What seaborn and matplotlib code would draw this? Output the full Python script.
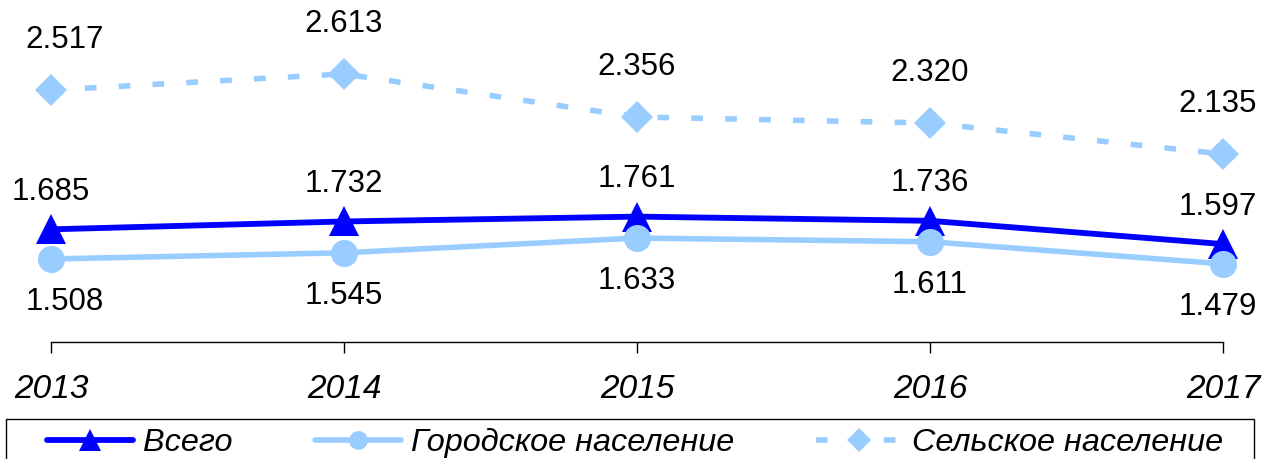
import matplotlib
matplotlib.use("Agg")
import matplotlib.pyplot as plt
from matplotlib.patches import Rectangle
import seaborn as sns
import pandas as pd

years = [2013, 2014, 2015, 2016, 2017]
total = [1.685, 1.732, 1.761, 1.736, 1.597]
urban = [1.508, 1.545, 1.633, 1.611, 1.479]
rural = [2.517, 2.613, 2.356, 2.320, 2.135]
series_names = ["Всего", "Городское население", "Сельское население"]

sns.set_style("white")
plt.rcParams["font.family"] = ["Liberation Sans", "DejaVu Sans"]
plt.rcParams["text.color"] = "black"
plt.rcParams["xtick.color"] = "black"
plt.rcParams["xtick.labelcolor"] = "black"

df = pd.DataFrame({"year": years, "total": total, "urban": urban, "rural": rural})

W, H = 1263, 459
fig = plt.figure(figsize=(W / 100, H / 100), dpi=100)
ax = fig.add_axes([51 / W, 1 - 342 / H, (1223 - 51) / W, 342 / H])

blue = "#0000FF"
light = "#99CCFF"

sns.lineplot(data=df, x="year", y="total", ax=ax, color=blue, lw=4.2,
             marker="^", markersize=21, markeredgecolor=blue, markeredgewidth=0,
             label=series_names[0], legend=False, clip_on=False, zorder=3)
sns.lineplot(data=df, x="year", y="urban", ax=ax, color=light, lw=4.0,
             marker="o", markersize=19.5, markeredgecolor=light, markeredgewidth=0,
             label=series_names[1], legend=False, clip_on=False, zorder=4)
sns.lineplot(data=df, x="year", y="rural", ax=ax, color=light, lw=4.0,
             linestyle=(0, (2.1, 4.0)), marker="D", markersize=16,
             markeredgecolor=light, markeredgewidth=0,
             label=series_names[2], legend=False, clip_on=False, zorder=3)

# data labels
fs = 22.5
for i, yr in enumerate(years):
    dx = -4 if i == 4 else 0
    first = 10 if i == 0 else 0
    ax.annotate(f"{total[i]:.3f}", (yr, total[i]), xytext=(dx, 27),
                textcoords="offset points", ha="center", va="center", fontsize=fs)
    ax.annotate(f"{urban[i]:.3f}", (yr, urban[i]), xytext=(dx + first, -31),
                textcoords="offset points", ha="center", va="center", fontsize=fs)
    ax.annotate(f"{rural[i]:.3f}", (yr, rural[i]), xytext=(dx + first, 36),
                textcoords="offset points", ha="center", va="center", fontsize=fs)

ax.set_xlim(2013, 2017)
ax.set_ylim(1.012, 3.055)
ax.set_xticks(years)
ax.set_xticklabels([str(y) for y in years], fontsize=24, style="italic")
ax.set_yticks([])
ax.set_xlabel("")
ax.set_ylabel("")
for s in ["top", "left", "right"]:
    ax.spines[s].set_visible(False)
ax.spines["bottom"].set_color("black")
ax.spines["bottom"].set_linewidth(1.0)
ax.tick_params(axis="x", direction="out", length=8, width=1, color="black", pad=15,
               bottom=True)
ax.set_facecolor("none")

# legend box runs past the bottom edge
fig.add_artist(Rectangle((6 / W, -0.1), (1254 - 6) / W, (1 - 419 / H) + 0.1,
                         transform=fig.transFigure, fill=False,
                         edgecolor="black", lw=1.0))

handles, labels = ax.get_legend_handles_labels()
leg = fig.legend(handles, labels, loc="center left",
                 bbox_to_anchor=(47 / W, 1 - 443 / H), bbox_transform=fig.transFigure,
                 ncol=3, frameon=False,
                 prop={"size": 23.3, "style": "italic"}, handlelength=2.65,
                 handletextpad=0.31, columnspacing=2.55, borderpad=0,
                 borderaxespad=0, numpoints=1)
for h, ms in zip(leg.legend_handles, [16, 13.5, 12]):
    h.set_markersize(ms)

fig.savefig("out.png", dpi=100)
